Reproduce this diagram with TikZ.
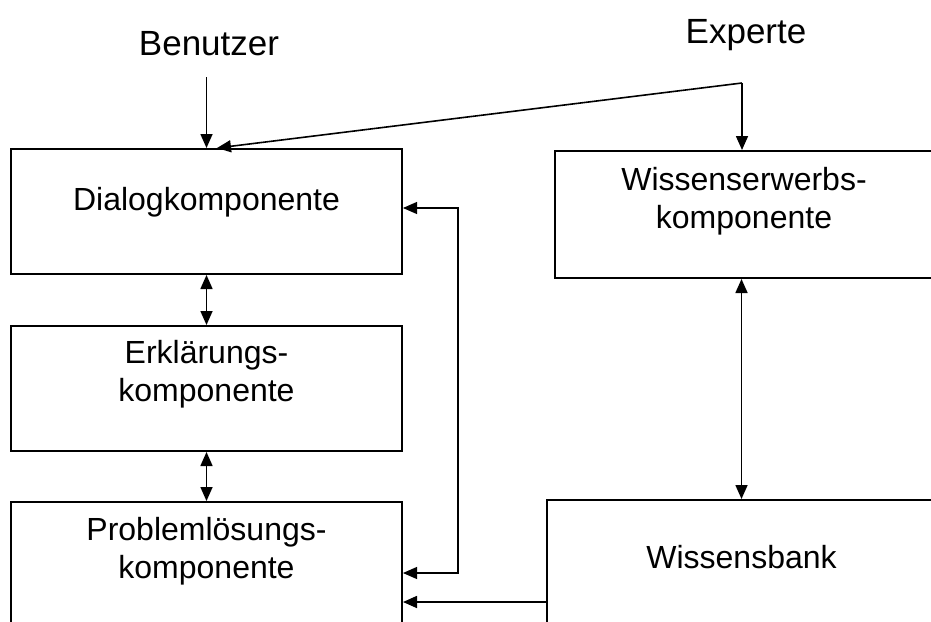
\documentclass[tikz,border=0pt]{standalone}
\usepackage{fontspec}
\setmainfont{Liberation Sans}
\usetikzlibrary{arrows.meta}
\begin{document}
\begin{tikzpicture}[x=1pt,y=-1pt,
  box/.style={draw, line width=2pt, inner sep=0pt},
  lbl/.style={font=\fontsize{32}{38}\selectfont, anchor=base, inner sep=0pt, align=center},
  ttl/.style={font=\fontsize{35}{40}\selectfont, anchor=base, inner sep=0pt},
  conn/.style={line width=1.6pt, -{Triangle[length=14pt,width=12pt]}},
  dconn/.style={line width=1.6pt, {Triangle[length=14pt,width=12pt]}-{Triangle[length=14pt,width=12pt]}}]
\useasboundingbox (0,0) rectangle (931,621);
\clip (0,0) rectangle (931,621);
\fill[white] (0,0) rectangle (931,621);
% boxes
\node[box, minimum width=391pt, minimum height=125pt] (dialog) at (206.5,211.5) {};
\node[box, minimum width=391pt, minimum height=125pt] (erkl) at (206.5,388.5) {};
\node[box, minimum width=391pt, minimum height=138pt] (prob) at (206.5,571) {};
\node[box, minimum width=381pt, minimum height=127pt] (erwerb) at (745.5,214.5) {};
\node[box, minimum width=389pt, minimum height=140pt] (bank) at (741.5,570) {};
% texts
\node[ttl] (benutzer) at (209,55) {Benutzer};
\node[ttl] (experte) at (746,43) {Experte};
\node[lbl] (dialogt) at (206.5,210) {Dialogkomponente};
\node[lbl] (erklt) at (206.5,401) {Erklärungs-\\komponente};
\node[lbl] (probt) at (206.5,578) {Problemlösungs-\\komponente};
\node[lbl] (erwerbt) at (744,228) {Wissenserwerbs-\\komponente};
\node[lbl] (bankt) at (741.5,568) {Wissensbank};
% connectors
\coordinate (bu) at (206.5,77);
\coordinate (ex) at (742,83);
\draw[conn] (bu) -- (bu |- dialog.north);
\draw[conn] (ex) -- (ex |- erwerb.north);
\draw[conn] (ex) -- ([xshift=10.5pt]dialog.north);
\draw[dconn] (dialog.south) -- (erkl.north);
\draw[dconn] (erkl.south) -- (prob.north);
\draw[dconn] (erwerb.south -| bank.north) -- (bank.north);
\draw[dconn, line width=1.1pt] (dialog.east |- 0,208) -- (458,208) -- (458,573) -- (prob.east |- 0,573);
\draw[conn] (bank.west |- 0,602) -- (prob.east |- 0,602);
\end{tikzpicture}
\end{document}
